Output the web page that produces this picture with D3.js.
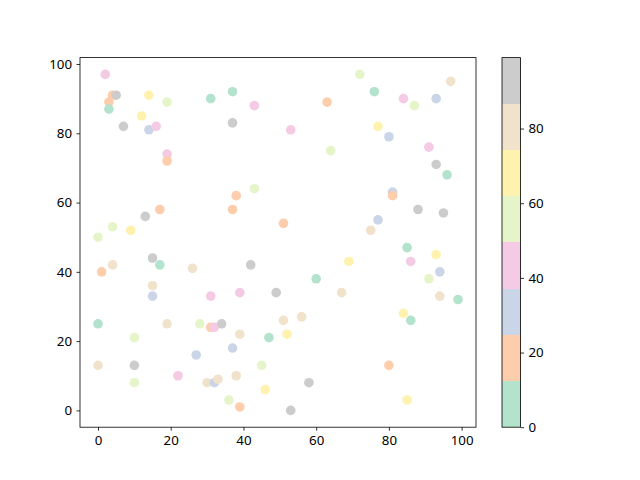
<!DOCTYPE html>
<html>
<head>
<meta charset="utf-8">
<script src="https://cdn.jsdelivr.net/npm/d3@7"></script>
<style>
  body { margin: 0; background: #fff; }
  svg text { font-family: "Noto Sans", "Liberation Sans", sans-serif; font-size: 13.3px; fill: #000; }
</style>
</head>
<body>
<div id="chart"></div>
<script>
// scatter points
const xs = [2, 4, 5, 3, 3, 14, 19, 31, 37, 43, 12, 7, 14, 16, 37, 19, 19, 43, 38, 37, 17, 13, 4, 9, 0,
  72, 97, 76, 63, 84, 87, 93, 53, 77, 80, 64, 91, 93, 96, 81, 81, 88, 95, 51, 77, 75,
  15, 17, 4, 1, 26, 42, 15, 15, 31, 39, 49, 0, 19, 28, 31, 32, 34, 10, 39, 47, 37, 27, 0, 10, 45, 22, 10, 30, 32, 33, 38, 46, 36, 39,
  85, 93, 86, 69, 94, 91, 60, 67, 94, 99, 84, 86, 51, 56, 52, 80, 58, 85, 53];
const ys = [97, 91, 91, 89, 87, 91, 89, 90, 92, 88, 85, 82, 81, 82, 83, 74, 72, 64, 62, 58, 58, 56, 53, 52, 50,
  97, 95, 92, 89, 90, 88, 90, 81, 82, 79, 75, 76, 71, 68, 63, 62, 58, 57, 54, 55, 52,
  44, 42, 42, 40, 41, 42, 36, 33, 33, 34, 34, 25, 25, 25, 24, 24, 25, 21, 22, 21, 18, 16, 13, 13, 13, 10, 8, 8, 8, 9, 10, 6, 3, 1,
  47, 45, 43, 43, 40, 38, 38, 34, 33, 32, 28, 26, 26, 27, 22, 13, 8, 3, 0];
// colour values (only the colour band can be read, so values sit inside each band)
const cs = [44, 15, 90, 20, 5, 66, 55, 8, 3, 41, 70, 93, 29, 46, 88, 39, 17, 53, 22, 14, 19, 95, 58, 63, 51,
  57, 78, 10, 16, 43, 52, 32, 45, 67, 34, 60, 40, 96, 11, 27, 23, 91, 89, 13, 30, 82,
  92, 6, 77, 21, 80, 97, 84, 26, 42, 38, 88, 0, 79, 56, 18, 47, 99, 54, 76, 9, 33, 28, 85, 94, 50, 48, 61, 83, 35, 75, 81, 71, 59, 24,
  2, 73, 45, 65, 36, 57, 7, 86, 78, 4, 69, 12, 84, 76, 72, 17, 87, 64, 98];
const xTicks = [0, 20, 40, 60, 80, 100];
const yTicks = [0, 20, 40, 60, 80, 100];
const cTicks = [0, 20, 40, 60, 80];

const width = 640, height = 480;
const plot = { left: 80, right: 476, top: 57.6, bottom: 427.2 };
const bar = { left: 502, right: 520.5 };

const svg = d3.select("#chart").append("svg")
  .attr("width", width)
  .attr("height", height);

// 5% padding like matplotlib autoscale
const pad = (ext) => {
  const d = (ext[1] - ext[0]) * 0.05;
  return [ext[0] - d, ext[1] + d];
};

const x = d3.scaleLinear().domain(pad(d3.extent(xs))).range([plot.left, plot.right]);
const y = d3.scaleLinear().domain(pad(d3.extent(ys))).range([plot.bottom, plot.top]);
const cExt = d3.extent(cs);
const color = d3.scaleQuantize().domain(cExt).range(d3.schemePastel2);

const points = xs.map((d, i) => ({ x: d, y: ys[i], c: cs[i] }));

svg.append("g")
  .selectAll("circle")
  .data(points)
  .join("circle")
  .attr("cx", (d) => x(d.x))
  .attr("cy", (d) => y(d.y))
  .attr("r", 4.8)
  .attr("fill", (d) => color(d.c));

const styleAxis = (g) => {
  g.selectAll(".domain").remove();
  g.selectAll(".tick line").attr("stroke", "#000").attr("stroke-width", 0.8);
  g.selectAll(".tick text").attr("font-size", null).attr("font-family", null);
};

svg.append("g")
  .attr("transform", "translate(0," + plot.bottom + ")")
  .call(d3.axisBottom(x).tickValues(xTicks).tickSize(3.5).tickPadding(4.5))
  .call(styleAxis);

svg.append("g")
  .attr("transform", "translate(" + plot.left + ",0)")
  .call(d3.axisLeft(y).tickValues(yTicks).tickSize(3.5).tickPadding(4.5))
  .call(styleAxis);

svg.append("rect")
  .attr("x", plot.left)
  .attr("y", plot.top)
  .attr("width", plot.right - plot.left)
  .attr("height", plot.bottom - plot.top)
  .attr("fill", "none")
  .attr("stroke", "#000")
  .attr("stroke-width", 0.8);

// colorbar
const cy = d3.scaleLinear().domain(cExt).range([plot.bottom, plot.top]);
svg.append("g")
  .selectAll("rect")
  .data(color.range())
  .join("rect")
  .attr("x", bar.left)
  .attr("width", bar.right - bar.left)
  .attr("y", (d) => cy(color.invertExtent(d)[1]))
  .attr("height", (d) => cy(color.invertExtent(d)[0]) - cy(color.invertExtent(d)[1]))
  .attr("fill", (d) => d)
  .attr("shape-rendering", "crispEdges");

svg.append("g")
  .attr("transform", "translate(" + bar.right + ",0)")
  .call(d3.axisRight(cy).tickValues(cTicks).tickSize(3.5).tickPadding(4.5))
  .call(styleAxis);

svg.append("rect")
  .attr("x", bar.left)
  .attr("y", plot.top)
  .attr("width", bar.right - bar.left)
  .attr("height", plot.bottom - plot.top)
  .attr("fill", "none")
  .attr("stroke", "#000")
  .attr("stroke-width", 0.8);
</script>
</body>
</html>
